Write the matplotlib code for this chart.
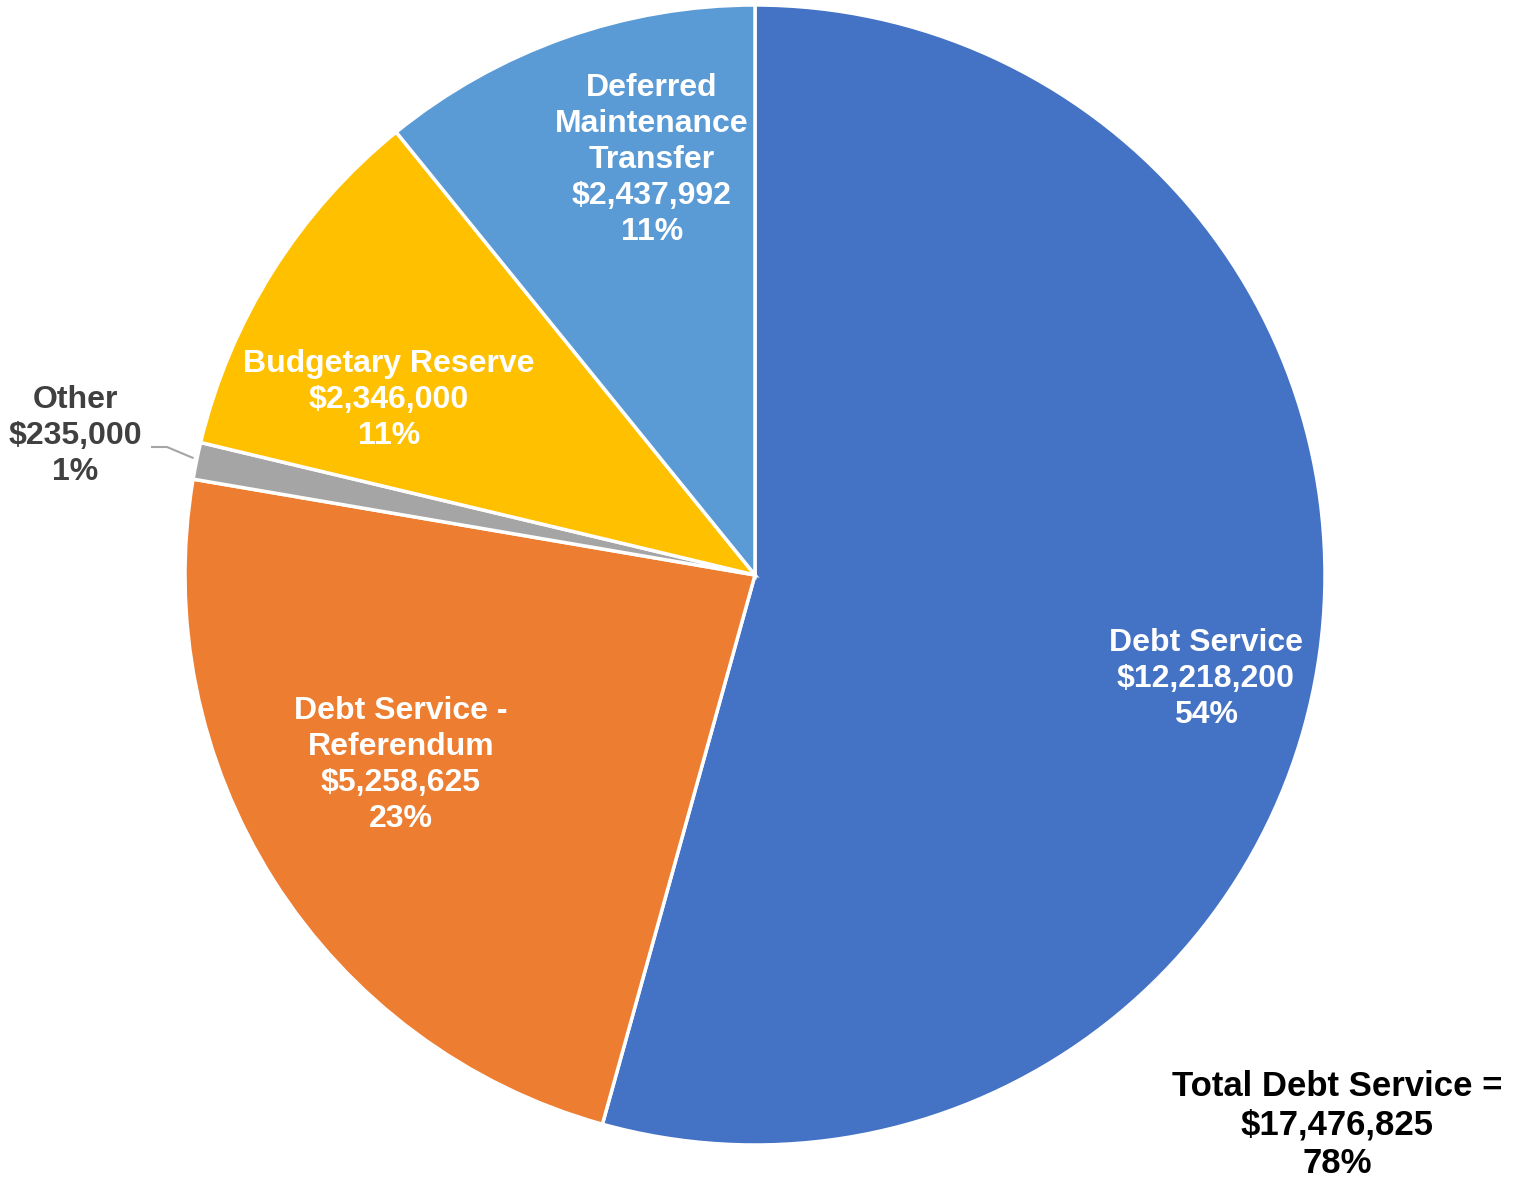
import numpy as np
import matplotlib
matplotlib.use("Agg")
import matplotlib.pyplot as plt

matplotlib.rcParams['font.family'] = ['Liberation Sans', 'DejaVu Sans']

# data
categories = ["Debt Service", "Debt Service -\nReferendum", "Other",
              "Budgetary Reserve", "Deferred\nMaintenance\nTransfer"]
values = [12218200, 5258625, 235000, 2346000, 2437992]
pcts = ["54%", "23%", "1%", "11%", "11%"]
colors = ["#4472C4", "#ED7D31", "#A5A5A5", "#FFC000", "#5B9BD5"]
total_label = "Total Debt Service =\n$17,476,825\n78%"

W, H = 1515, 1183
fig = plt.figure(figsize=(W / 100, H / 100), dpi=100)
ax = fig.add_axes([0, 0, 1, 1])

cx, cy, r = 755, H - 575, 570
wedges, _ = ax.pie(values, colors=colors, startangle=90, counterclock=False,
                   radius=r, center=(cx, cy), frame=True,
                   wedgeprops=dict(edgecolor="white", linewidth=2.5))
ax.set_xlim(0, W)
ax.set_ylim(0, H)
ax.set_aspect("equal")
ax.axis("off")

# label positions (pixel coords, from top)
label_pos = [(1206, 679), (401, 765), (75, 436), (389, 400), (652, 160)]
for i, (name, v, p) in enumerate(zip(categories, values, pcts)):
    x, y = label_pos[i]
    col = "#404040" if name == "Other" else "white"
    ax.text(x, H - y, f"{name}\n${v:,.0f}\n{p}", ha="center", va="center",
            color=col, fontsize=23, fontweight="bold", linespacing=1.25)

# leader line for Other
w = wedges[2]
mid = np.deg2rad((w.theta1 + w.theta2) / 2)
ex, ey = cx + r * np.cos(mid), cy + r * np.sin(mid)
ax.plot([152, 167, ex - 4], [H - 447, H - 447, ey + 3], color="#A5A5A5", lw=1.5)

ax.text(1337, H - 1125, total_label, ha="center", va="center", color="black",
        fontsize=25, fontweight="bold", linespacing=1.2)

fig.savefig("out.png", dpi=100)
